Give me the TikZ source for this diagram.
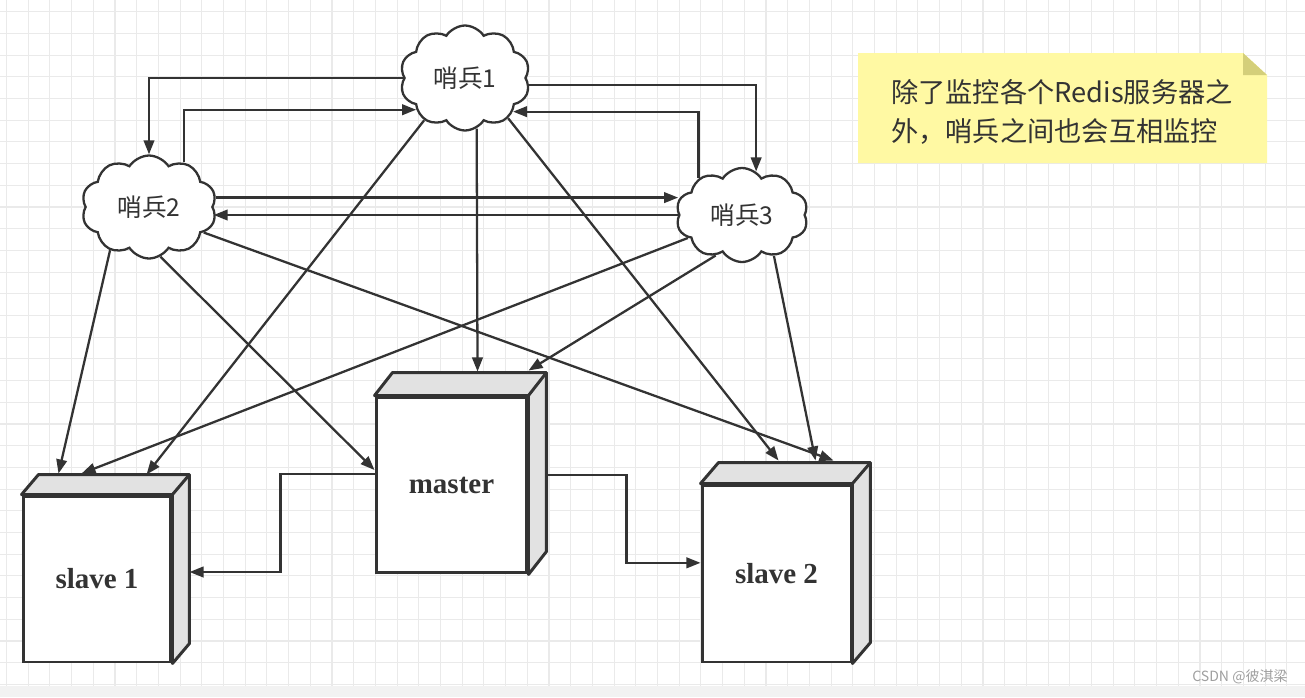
\documentclass[tikz,border=0pt]{standalone}
\usepackage{fontspec}
\setmainfont{Liberation Serif}
\newfontfamily\cjk{Noto Sans CJK SC}
\usetikzlibrary{shapes.symbols,arrows.meta,calc}

\definecolor{ink}{HTML}{333333}
\definecolor{notefill}{HTML}{FFF9A3}
\definecolor{notefold}{HTML}{D4CF7A}
\definecolor{gridline}{HTML}{EAEAEA}
\definecolor{boxside}{HTML}{E2E2E2}

\begin{document}
\begin{tikzpicture}[x=0.02cm,y=-0.02cm,>={Triangle[length=8pt,width=6pt]},
  sentinel/.style={cloud,cloud puffs=10,cloud puff arc=115,cloud ignores aspect,draw=ink,fill=white,line width=1.3pt,inner sep=0pt,font=\cjk\fontsize{14}{16}\selectfont,text=ink},
  server/.style={draw=ink,fill=white,line width=1.7pt,inner sep=0pt,font=\bfseries\fontsize{16.5}{18}\selectfont,text=ink},
  link/.style={->,draw=ink,line width=1.3pt}]

  \useasboundingbox (0,0) rectangle (1305,697);

  % background grid
  \foreach \i in {0,...,59}
    \draw[gridline,line width=0.6pt] ({6.5+21.7*\i},0) -- ++(0,686);
  \foreach \j in {0,...,31}
    \draw[gridline,line width=0.6pt] (0,{11.7+21.7*\j}) -- ++(1305,0);
  \fill[gray!10] (0,686) rectangle (1305,697);

  % note
  \fill[notefill] (858,53) -- (1243,53) -- (1267,75) |- (858,163) -- cycle;
  \fill[notefold] (1243,53) -- (1243,75) -- (1267,75) -- cycle;
  \node[font=\cjk\fontsize{15.5}{22.5}\selectfont,text=ink,align=left] (note) at (1062,112)
    {除了监控各个Redis服务器之\\外，哨兵之间也会互相监控};

  % sentinels
  \node[sentinel,minimum width=2.6cm,minimum height=2.1cm] (s1) at (465,78) {哨兵1};
  \node[sentinel,minimum width=2.7cm,minimum height=2.06cm] (s2) at (149,207) {哨兵2};
  \node[sentinel,minimum width=2.64cm,minimum height=1.88cm] (s3) at (742,215) {哨兵3};

  % servers
  \node[server,minimum width=2.96cm,minimum height=3.32cm] (sl1) at (97,579) {slave 1};
  \node[server,minimum width=3.02cm,minimum height=3.52cm] (m) at (451.5,485) {master};
  \node[server,minimum width=2.98cm,minimum height=3.54cm] (sl2) at (776.5,573.5) {slave 2};

  \foreach \n/\dx/\dy in {sl1/17/-20,m/18/-23,sl2/18/-21}{
    \draw[ink,fill=boxside,line width=1.7pt,line join=round]
      (\n.north west) -- ++(\dx,\dy) -| ($(\n.south east)+(\dx,\dy)$)
      -- (\n.south east) -- (\n.north east) -- cycle;
    \draw[ink,line width=1.7pt] (\n.north east) -- ++(\dx,\dy);
  }

  % sentinels watch each other
  \draw[link] (s1.west) -| (s2.north);
  \draw[link] (s2.52) |- (s1.213);
  \draw[link] (s1.354) -| (s3.72);
  \draw[link] (s3.140) |- (s1.325);
  \draw[link] (s2.8) -- (s2.8 -| s3.west);
  \draw[link] (s3.west) -- (s3.west -| s2.east);

  % sentinels watch the servers
  \draw[link] (s1.226) -- ($(sl1.north west)+(125,-20)$);
  \draw[link] (s1.283) -- ($(m.north west)+(103,-24)$);
  \draw[link] (s1.317) -- ($(sl2.north west)+(78,-23)$);
  \draw[link] (s2.228) -- ($(sl1.north west)+(37,-21)$);
  \draw[link] (s2.283) -- (m.169);
  \draw[link] (s2.335) -- ($(sl2.north west)+(133,-23)$);
  \draw[link] (s3.203) -- ($(sl1.north west)+(60,-21)$);
  \draw[link] (s3.237) -- ($(m.north west)+(154,-25)$);
  \draw[link] (s3.308) -- ($(sl2.north west)+(115,-23)$);

  % replication
  \draw[link] (m.172) -- ++(-94,0) |- ($(sl1.east)+(17,-7)$);
  \draw[link] ($(m.east)+(18,-10)$) -- ++(80,0) |- (sl2.172);

  \node[text=gray!75,font=\cjk\fontsize{8}{9}\selectfont] (mark) at (1240,677) {CSDN @彼淇梁};
\end{tikzpicture}
\end{document}
